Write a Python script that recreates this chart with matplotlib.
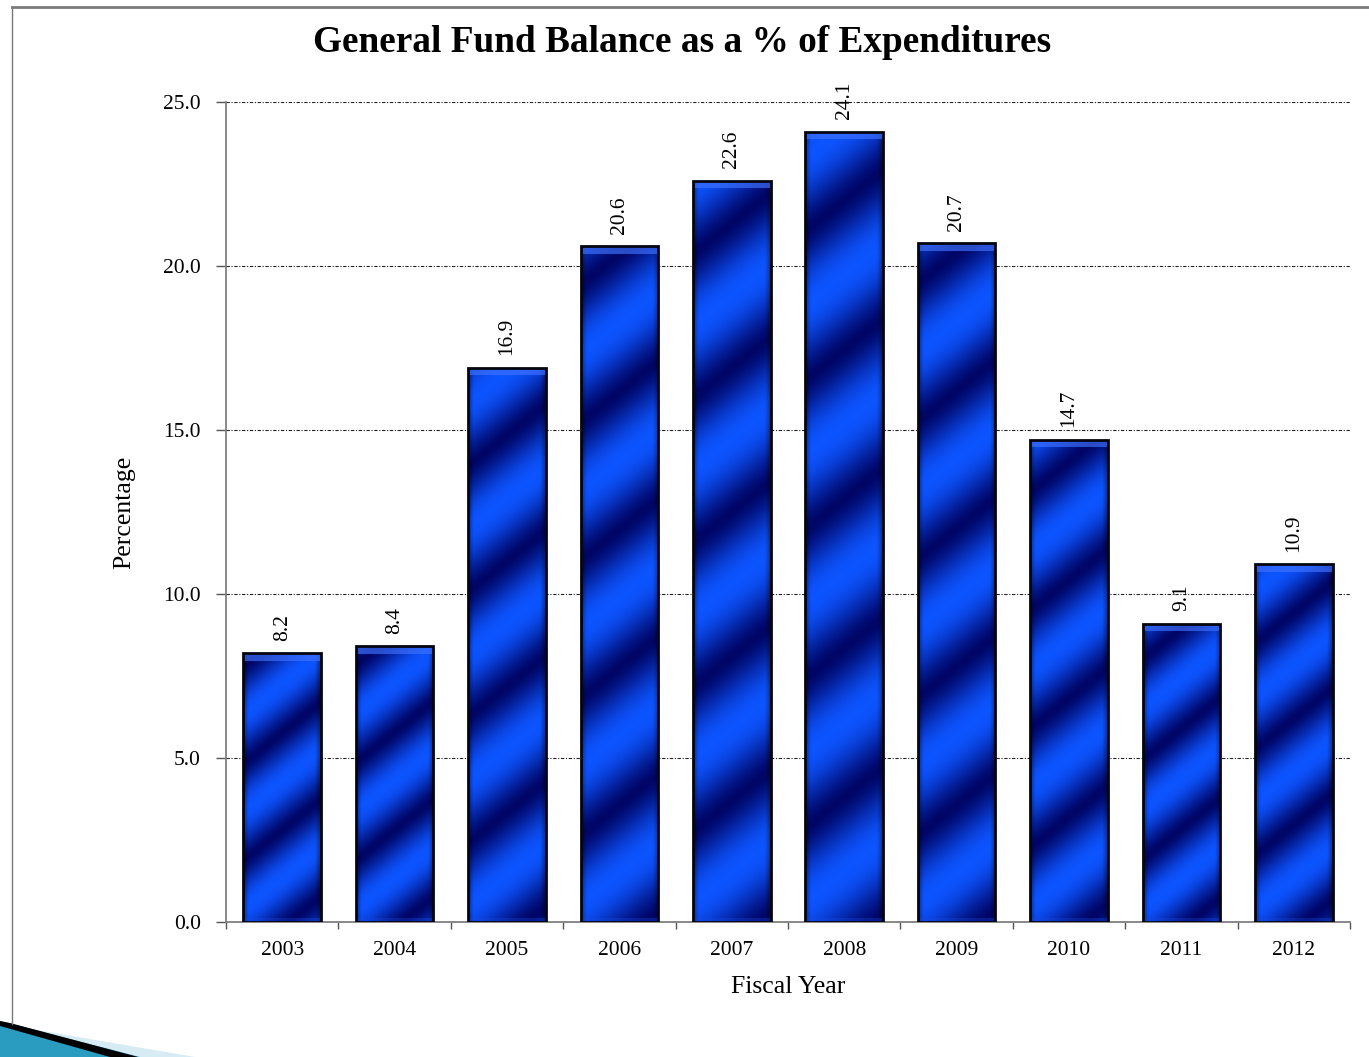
import numpy as np
import matplotlib
matplotlib.use("Agg")
import matplotlib.pyplot as plt
from matplotlib.patches import Polygon
from matplotlib.lines import Line2D

years = ["2003", "2004", "2005", "2006", "2007", "2008", "2009", "2010", "2011", "2012"]
pct = [8.2, 8.4, 16.9, 20.6, 22.6, 24.1, 20.7, 14.7, 9.1, 10.9]
yticks = [0, 5, 10, 15, 20, 25]

plt.rcParams['font.family'] = ['Liberation Serif', 'DejaVu Serif']

W, H = 1369, 1057
fig = plt.figure(figsize=(W / 100, H / 100), dpi=100)
ax = fig.add_axes([226 / W, 1 - 922 / H, (1350 - 226) / W, (922 - 102) / H])

x = np.arange(len(years))
ax.set_xlim(-0.5, len(years) - 0.5)
ax.set_ylim(0, 25)

# gridlines
for t in yticks[1:]:
    ax.axhline(t, color='#222222', lw=0.8, ls=(0, (3, 1.5, 1, 1.5)), zorder=1)

bars = ax.bar(x, pct, width=0.69, facecolor='none', edgecolor='#050510',
              linewidth=2.0, zorder=4)

# gradient fill for each bar (diagonal stripes)
px_x = (1350 - 226) / len(years)   # pixels per x unit
px_y = (922 - 102) / 25.0          # pixels per y unit
bright = np.array([0.05, 0.33, 1.0])
dark = np.array([0.0, 0.02, 0.40])
for b in bars:
    x0, w, h = b.get_x(), b.get_width(), b.get_height()
    nx = int(w * px_x)
    ny = int(h * px_y)
    period = 70 + 0.1 * ny
    xp = np.arange(nx)[None, :]
    yp = np.arange(ny)[:, None]
    phase = (xp * 0.8 - yp) / period * 2 * np.pi + 0.8
    v = (1 + np.cos(phase)) / 2
    v = v ** 0.75
    img = dark + v[..., None] * (bright - dark)
    # darken left/right edges
    u = np.arange(nx) / (nx - 1)
    edge = 1 - 0.4 * np.clip(1 - np.minimum(u, 1 - u) / 0.07, 0, 1)
    img = img * edge[None, :, None]
    # top bevel
    top = ny - 8
    img[top:, :, :] = img[top:, :, :] * 0.35 + np.array([0.25, 0.45, 1.0]) * 0.65
    img[:4, :, :] = img[:4, :, :] * 0.7 + np.array([0.1, 0.3, 0.9]) * 0.3
    im = ax.imshow(np.clip(img, 0, 1), extent=(x0, x0 + w, 0, h), origin='lower',
                   aspect='auto', zorder=3, interpolation='bilinear')
    im.set_clip_path(b)
ax.set_xlim(-0.5, len(years) - 0.5)
ax.set_ylim(0, 25)

for xi, v in zip(x, pct):
    ax.annotate(f"{v:.1f}", (xi, v), xytext=(0, 9), textcoords='offset points',
                rotation=90, ha='center', va='bottom', fontsize=15.5)

ax.set_yticks(yticks)
ax.set_yticklabels([f"{t:.1f}" for t in yticks], fontsize=15.5)
ax.set_xticks(x)
ax.set_xticklabels(years, fontsize=15.5)
ax.set_xticks(np.arange(len(years) + 1) - 0.5, minor=True)
ax.tick_params(axis='x', which='major', length=0, pad=14)
ax.tick_params(axis='x', which='minor', length=5, color='#555555', width=1)
ax.tick_params(axis='y', length=7, color='#555555', width=1, pad=11)

for s in ['top', 'right']:
    ax.spines[s].set_visible(False)
for s in ['left', 'bottom']:
    ax.spines[s].set_color('#808080')
    ax.spines[s].set_linewidth(1.3)

ax.set_xlabel("Fiscal Year", fontsize=18.5, labelpad=11)
ax.set_ylabel("Percentage", fontsize=18.5, labelpad=20)
fig.text(682 / W, 1 - 42 / H, "General Fund Balance as a % of Expenditures",
         ha='center', va='center', fontsize=26.8, fontweight='bold')

# slide frame
fig.add_artist(Line2D([12 / W, 1], [1 - 6.5 / H, 1 - 6.5 / H], transform=fig.transFigure,
                      color='#7a7a7a', lw=2))
fig.add_artist(Line2D([12 / W, 12 / W], [1 - 6.5 / H, 1 - 1024 / H], transform=fig.transFigure,
                      color='#7a7a7a', lw=1))

# bottom-left swoosh
def fp(pts):
    return [(a / W, 1 - b / H) for a, b in pts]

fig.add_artist(Polygon(fp([(8, 1025), (195, 1057), (140, 1057)]), closed=True,
                       transform=fig.transFigure, facecolor='#d6ebf3', edgecolor='none'))
fig.add_artist(Polygon(fp([(0, 1021), (8, 1023), (140, 1057), (0, 1057)]), closed=True,
                       transform=fig.transFigure, facecolor='#2a9cc0', edgecolor='none'))
fig.add_artist(Polygon(fp([(0, 1021), (10, 1023), (138, 1057), (110, 1057), (0, 1026)]),
                       closed=True, transform=fig.transFigure, facecolor='black',
                       edgecolor='none'))

fig.savefig("out.png", dpi=100)
